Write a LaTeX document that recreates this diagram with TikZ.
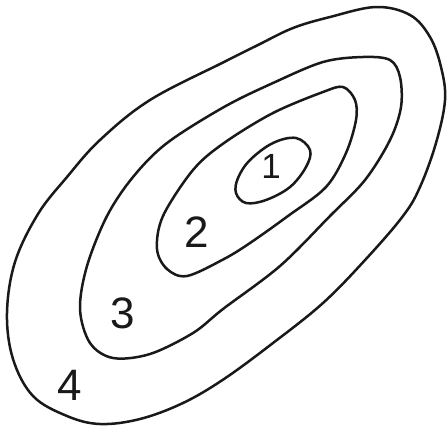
\documentclass[tikz,border=0pt]{standalone}
\usepackage{fontspec}
\setmainfont{Liberation Sans}
\begin{document}
\begin{tikzpicture}[x=1pt,y=-1pt,
  contour/.style={draw=black!90,line width=2.5pt,line join=round},
  lbl/.style={font=\fontsize{44}{44}\selectfont,text=black!90,inner sep=0pt}]
\useasboundingbox (0,0) rectangle (447,432);
% 4 (outer)
\draw[contour] plot[smooth cycle,tension=0.6] coordinates {
 (293,28) (330,17) (376,7) (410,15) (430,37) (441,67) (445,100) (436,143)
 (420,187) (403,216) (366,259) (323,303) (273,343) (224,379) (183,403)
 (140,419) (100,424) (67,416) (33,396) (13,359) (7,313) (15,262) (38,214)
 (67,177) (100,140) (150,100) (224,62) (258,45)};
% 3
\draw[contour] plot[smooth cycle,tension=0.55] coordinates {
 (323,62) (363,57) (390,60) (400,77) (401,107) (390,140) (365,180) (330,216)
 (280,266) (223,309) (193,333) (150,354) (113,358) (90,343) (80,309)
 (87,266) (107,216) (133,177) (167,143) (224,107) (273,83)};
% 2
\draw[contour] plot[smooth cycle,tension=0.55] coordinates {
 (343,87) (355,100) (356,120) (346,153) (326,187) (288,216) (250,243)
 (224,259) (187,276) (167,269) (157,249) (163,216) (193,170) (224,143)
 (273,113) (323,92)};
% 1
\draw[contour] plot[smooth cycle,tension=0.6] coordinates {
 (273,143) (296,138) (310,150) (306,167) (290,187) (266,200) (246,203)
 (236,193) (238,178) (250,160)};
\node[lbl,font=\fontsize{35}{35}\selectfont] (l1) at (271,166) {1};
\node[lbl] (l2) at (197,232) {2};
\node[lbl] (l3) at (123,313) {3};
\node[lbl] (l4) at (70,385) {4};
\end{tikzpicture}
\end{document}
